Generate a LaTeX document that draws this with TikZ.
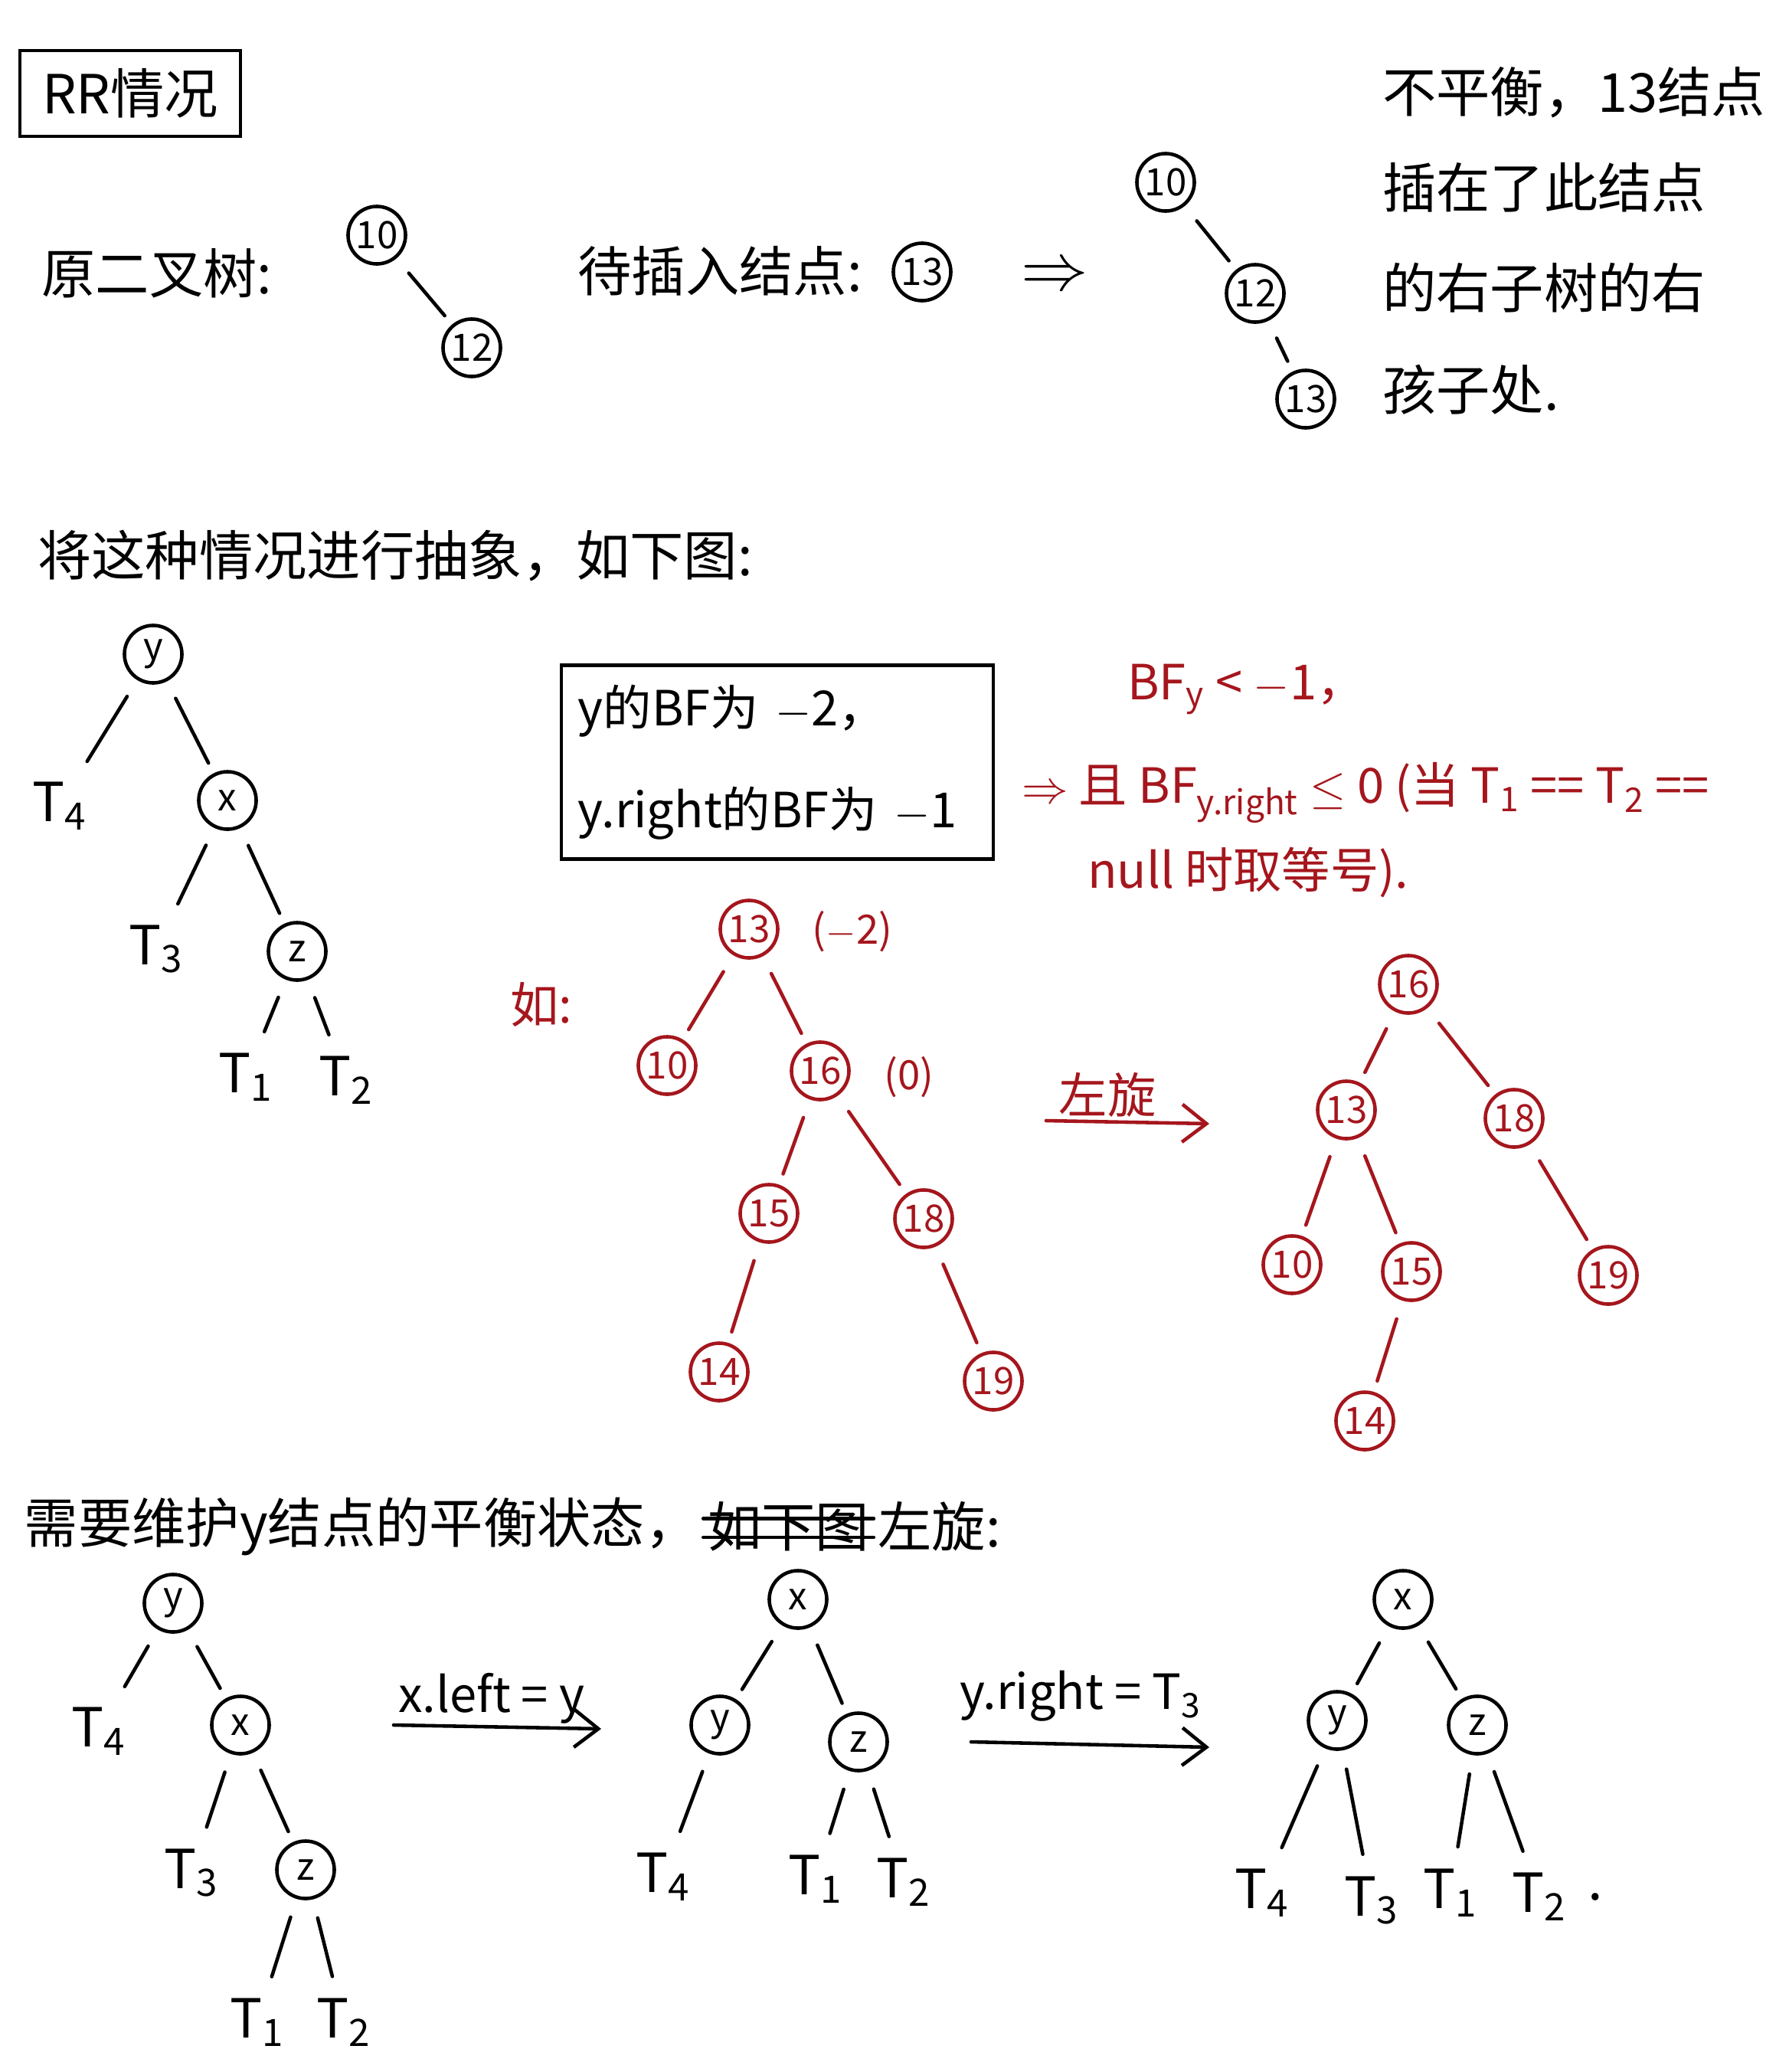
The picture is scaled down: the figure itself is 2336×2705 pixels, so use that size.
\documentclass[tikz,border=0pt]{standalone}
\usepackage{fontspec}
\newfontfamily\cjk{Noto Sans CJK SC}
\usetikzlibrary{positioning,arrows.meta}
\definecolor{inkred}{HTML}{A5161D}

\begin{document}
\begin{tikzpicture}[x=0.01cm,y=-0.01cm,line width=1.3pt,line cap=round,
    big/.style={font=\cjk\fontsize{20}{24}\selectfont},
    mid/.style={font=\cjk\fontsize{18}{22}\selectfont},
    small/.style={font=\cjk\fontsize{15}{18}\selectfont},
    num/.style={circle,draw,minimum size=0.75cm,inner sep=0pt,font=\cjk\fontsize{14}{16}\selectfont},
    rnum/.style={num,draw=inkred,text=inkred},
    leaf/.style={font=\cjk\fontsize{20}{24}\selectfont},
    tedge/.style={shorten <=0.25cm,shorten >=0.15cm},
    redge/.style={tedge,draw=inkred},
    >={Straight Barb[length=9pt,width=14pt]}]
    \useasboundingbox (0,0) rectangle (2336,2705);

    \node[big,draw,minimum width=2.88cm,minimum height=1.12cm] (title) at (170,122) {RR情况};

    \node[big] (orig) at (205,357) {原二叉树:};
    \node[num] (a10) at (492,307) {10};
    \node[num] (a12) at (616,454) {12};
    \draw[tedge] (a10) -- (a12);

    \node[big] (ins) at (940,354) {待插入结点:};
    \node[num] (new13) at (1204,355) {13};
    \node[font=\fontsize{30}{30}\selectfont] (imp) at (1377,362) {$\Rightarrow$};

    \node[num] (b10) at (1522,238) {10};
    \node[num] (b12) at (1639,383) {12};
    \node[num] (b13) at (1705,521) {13};
    \draw[tedge] (b10) -- (b12);
    \draw[tedge] (b12) -- (b13);

    \node[big,anchor=west] (note1) at (1791,121) {不平衡，13结点};
    \node[big,anchor=west] (note2) at (1791,245) {插在了此结点};
    \node[big,anchor=west] (note3) at (1791,376) {的右子树的右};
    \node[big,anchor=west] (note4) at (1791,509) {孩子处.};

    \node[big,anchor=west] (abs) at (35,725) {将这种情况进行抽象，如下图:};

    \node[num] (y1) at (200,854) {y};
    \node[leaf] (t41) at (78,1052) {T\textsubscript{4}};
    \node[num] (x1) at (297,1045) {x};
    \node[leaf] (t31) at (204,1239) {T\textsubscript{3}};
    \node[num] (z1) at (388,1242) {z};
    \node[leaf] (t11) at (321,1406) {T\textsubscript{1}};
    \node[leaf] (t21) at (452,1410) {T\textsubscript{2}};
    \draw[tedge] (y1) -- (t41);
    \draw[tedge] (y1) -- (x1);
    \draw[tedge] (x1) -- (t31);
    \draw[tedge] (x1) -- (z1);
    \draw[tedge] (z1) -- (t11);
    \draw[tedge] (z1) -- (t21);

    \node[mid,draw,minimum width=5.64cm,minimum height=2.53cm,align=left,text width=5.2cm] (bf) at (1015,995)
        {y的BF为 $-$2，\\[0.55cm] y.right的BF为 $-$1};

    \node[mid,inkred,anchor=west] (cond1) at (1458,900) {BF\textsubscript{y} < $-$1，};
    \node[mid,inkred,anchor=west] (cond2) at (1320,1035) {$\Rightarrow$ 且 BF\textsubscript{y.right} $\le$ 0 (当 T\textsubscript{1} == T\textsubscript{2} ==};
    \node[mid,inkred,anchor=west] (cond3) at (1406,1139) {null 时取等号).};

    \node[mid,inkred] (eg) at (707,1311) {如:};

    \node[rnum] (c13) at (978,1213) {13};
    \node[rnum] (c10) at (871,1391) {10};
    \node[rnum] (c16) at (1071,1398) {16};
    \node[rnum] (c15) at (1004,1584) {15};
    \node[rnum] (c18) at (1206,1591) {18};
    \node[rnum] (c14) at (939,1791) {14};
    \node[rnum] (c19) at (1297,1803) {19};
    \node[small,inkred] (bf13) at (1113,1216) {($-$2)};
    \node[small,inkred] (bf16) at (1187,1406) {(0)};
    \draw[redge] (c13) -- (c10);
    \draw[redge] (c13) -- (c16);
    \draw[redge] (c16) -- (c15);
    \draw[redge] (c16) -- (c18);
    \draw[redge] (c15) -- (c14);
    \draw[redge] (c18) -- (c19);

    \node[mid,inkred] (rot) at (1446,1429) {左旋};
    \coordinate (rotA) at (1366,1463);
    \coordinate (rotB) at (1579,1467);
    \draw[->,inkred] (rotA) -- (rotB);

    \node[rnum] (d16) at (1839,1285) {16};
    \node[rnum] (d13) at (1758,1449) {13};
    \node[rnum] (d18) at (1977,1460) {18};
    \node[rnum] (d10) at (1687,1651) {10};
    \node[rnum] (d15) at (1843,1660) {15};
    \node[rnum] (d19) at (2100,1665) {19};
    \node[rnum] (d14) at (1782,1855) {14};
    \draw[redge] (d16) -- (d13);
    \draw[redge] (d16) -- (d18);
    \draw[redge] (d13) -- (d10);
    \draw[redge] (d13) -- (d15);
    \draw[redge] (d18) -- (d19);
    \draw[redge] (d15) -- (d14);

    \node[big,anchor=west,inner sep=1pt] (need) at (26,1993) {需要维护y结点的平衡状态，};
    \node[big,right=0pt of need,inner sep=1pt] (strike) {如下图};
    \node[big,right=0pt of strike,inner sep=1pt] (lrot) {左旋:};
    \draw ([yshift=3pt]strike.west) -- ([yshift=3pt]strike.east);
    \draw ([yshift=-4pt]strike.west) -- ([yshift=-4pt]strike.east);

    \node[num] (y2) at (226,2093) {y};
    \node[leaf] (t42) at (129,2260) {T\textsubscript{4}};
    \node[num] (x2) at (314,2252) {x};
    \node[leaf] (t32) at (250,2445) {T\textsubscript{3}};
    \node[num] (z2) at (399,2441) {z};
    \node[leaf] (t12) at (336,2640) {T\textsubscript{1}};
    \node[leaf] (t22) at (449,2640) {T\textsubscript{2}};
    \draw[tedge] (y2) -- (t42);
    \draw[tedge] (y2) -- (x2);
    \draw[tedge] (x2) -- (t32);
    \draw[tedge] (x2) -- (z2);
    \draw[tedge] (z2) -- (t12);
    \draw[tedge] (z2) -- (t22);

    \node[mid] (step1) at (642,2217) {x.left = y};
    \coordinate (s1A) at (514,2252);
    \coordinate (s1B) at (785,2257);
    \draw[->] (s1A) -- (s1B);

    \node[num] (x3) at (1042,2088) {x};
    \node[num] (y3) at (940,2252) {y};
    \node[num] (z3) at (1121,2274) {z};
    \node[leaf] (t43) at (866,2450) {T\textsubscript{4}};
    \node[leaf] (t13) at (1065,2453) {T\textsubscript{1}};
    \node[leaf] (t23) at (1180,2457) {T\textsubscript{2}};
    \draw[tedge] (x3) -- (y3);
    \draw[tedge] (x3) -- (z3);
    \draw[tedge] (y3) -- (t43);
    \draw[tedge] (z3) -- (t13);
    \draw[tedge] (z3) -- (t23);

    \node[mid] (step2) at (1411,2214) {y.right = T\textsubscript{3}};
    \coordinate (s2A) at (1268,2274);
    \coordinate (s2B) at (1579,2281);
    \draw[->] (s2A) -- (s2B);

    \node[num] (x4) at (1832,2088) {x};
    \node[num] (y4) at (1746,2246) {y};
    \node[num] (z4) at (1929,2252) {z};
    \node[leaf] (t44) at (1648,2471) {T\textsubscript{4}};
    \node[leaf] (t34) at (1791,2481) {T\textsubscript{3}};
    \node[leaf] (t14) at (1894,2471) {T\textsubscript{1}};
    \node[leaf,label={[leaf]right:.}] (t24) at (2010,2476) {T\textsubscript{2}};
    \draw[tedge] (x4) -- (y4);
    \draw[tedge] (x4) -- (z4);
    \draw[tedge] (y4) -- (t44);
    \draw[tedge] (y4) -- (t34);
    \draw[tedge] (z4) -- (t14);
    \draw[tedge] (z4) -- (t24);

\end{tikzpicture}
\end{document}
